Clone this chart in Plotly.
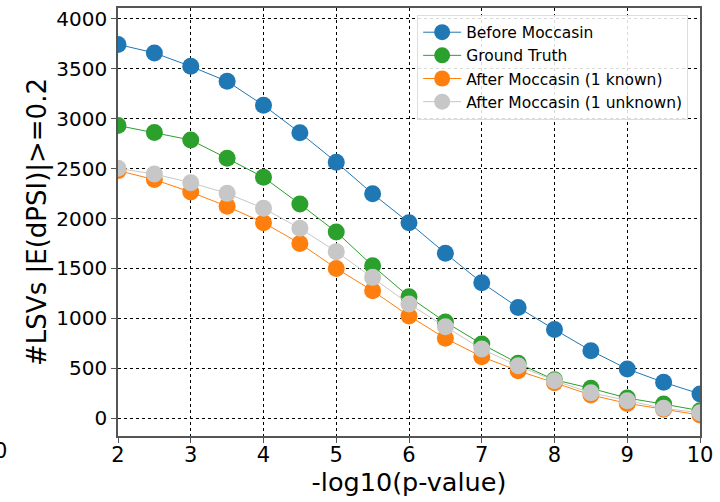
import plotly.graph_objects as go

x_vals = [2, 2.5, 3, 3.5, 4, 4.5, 5, 5.5, 6, 6.5, 7, 7.5, 8, 8.5, 9, 9.5, 10]
before = [3745, 3660, 3525, 3375, 3135, 2860, 2565, 2248, 1958, 1652, 1357, 1108, 888, 675, 492, 358, 242]
ground = [2932, 2862, 2787, 2603, 2413, 2145, 1865, 1527, 1215, 962, 742, 548, 383, 298, 200, 140, 74]
after_known = [2480, 2390, 2265, 2122, 1958, 1750, 1500, 1276, 1023, 799, 615, 474, 354, 231, 147, 87, 30]
after_unknown = [2503, 2446, 2359, 2252, 2102, 1902, 1668, 1410, 1143, 916, 692, 524, 374, 254, 174, 97, 53]

names = ["Before Moccasin", "Ground Truth", "After Moccasin (1 known)", "After Moccasin (1 unknown)"]
colors = ["#1f77b4", "#2ca02c", "#ff7f0e", "#c7c7c7"]
series = [before, ground, after_known, after_unknown]

fig = go.Figure()
for nm, col, ys in zip(names, colors, series):
    fig.add_trace(go.Scatter(
        x=x_vals, y=ys, name=nm, mode="lines+markers",
        line=dict(color=col, width=1),
        marker=dict(color=col, size=17, line=dict(width=0)),
    ))

axis_common = dict(
    showline=True, linecolor="#555555", linewidth=1.5, mirror=True,
    showgrid=True, gridcolor="black", gridwidth=1, griddash="dot",
    ticks="outside", ticklen=5, tickcolor="#555555", zeroline=False,
    automargin=False,
)

fig.update_layout(
    width=720, height=502,
    margin=dict(l=118, r=20, t=8, b=66),
    plot_bgcolor="white", paper_bgcolor="white",
    font=dict(family="DejaVu Sans", color="black"),
    xaxis=dict(range=[2, 10], dtick=1, tick0=2,
               tickfont=dict(size=21), ticklabelstandoff=-6,
               title=dict(text="-log10(p-value)", font=dict(size=25.5), standoff=0),
               **axis_common),
    yaxis=dict(range=[-180, 4110], dtick=500, tick0=0,
               tickfont=dict(size=20),
               title=dict(text="#LSVs |E(dPSI)|>=0.2", font=dict(size=26), standoff=2),
               **axis_common),
    legend=dict(x=0.514, y=0.9845, xanchor="left", yanchor="top",
                bgcolor="rgba(255,255,255,0.85)", bordercolor="#dddddd", borderwidth=1,
                font=dict(size=15.5), tracegroupgap=0, itemsizing="trace", itemwidth=38),
    showlegend=True,
)

fig.add_annotation(text="0", xref="paper", yref="paper", x=-0.2165, y=-0.035,
                   xanchor="left", yanchor="middle", showarrow=False,
                   font=dict(size=21))

fig.write_html("out.html", config={"displayModeBar": False},
               post_script="document.body.style.margin='0px';")
